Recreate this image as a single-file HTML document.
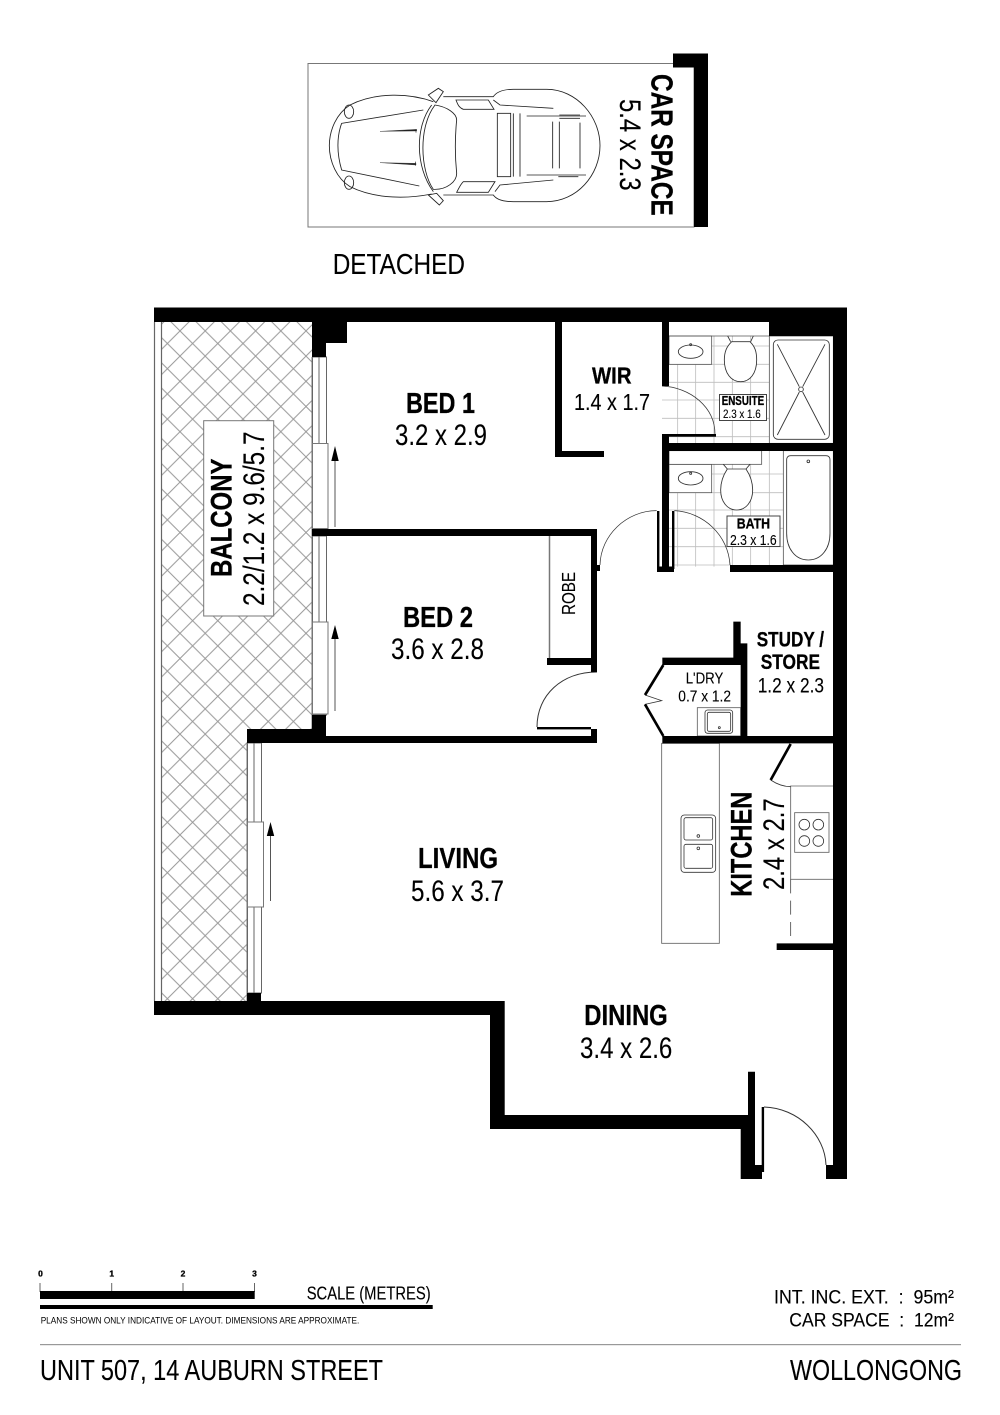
<!DOCTYPE html>
<html><head><meta charset="utf-8"><title>Unit 507 floor plan</title>
<style>
html,body{margin:0;padding:0;background:#fff}
svg{display:block}
text{font-family:"Liberation Sans",Arial,sans-serif;fill:#000;stroke:#000;stroke-width:.12}
.b{font-weight:bold;stroke-width:.3}
</style></head><body>
<svg width="1000" height="1415" viewBox="0 0 1000 1415" xmlns="http://www.w3.org/2000/svg">
<defs>
<pattern id="h" patternUnits="userSpaceOnUse" width="25.2" height="25.2" x="3.6" y="3.3">
<path d="M0,0L25.2,25.2M25.2,0L0,25.2" stroke="#999" stroke-width="1" fill="none"/>
</pattern>
</defs>
<rect width="1000" height="1415" fill="#fff"/>

<!-- car space -->
<rect x="308" y="63.5" width="386" height="163.5" fill="#fff" stroke="#777" stroke-width="1"/>
<path d="M673,53.5H708V227H694V67.5H673Z" fill="#000"/>
<g transform="translate(300,50) scale(.33333)" fill="none" stroke="#222" stroke-width="2.6">
<path d="M400,155C330,130 230,125 150,165C110,190 88,240 88,287C88,335 110,385 150,410C230,450 330,445 395,432"/>
<path d="M430,140L580,140C590,125 610,118 640,118L740,118C830,118 900,200 900,287C900,375 830,455 740,455L640,455C610,455 590,450 580,435L430,435"/>
<path d="M370,180L125,220C110,260 110,310 125,360L358,408"/>
<ellipse cx="147" cy="185" rx="14" ry="20"/><ellipse cx="147" cy="398" rx="14" ry="20"/>
<path d="M240,244L350,238V243ZM240,338L348,340V345Z" fill="#222" stroke-width="1"/>
<path d="M348,238V248M346,335V347" stroke-width="2"/>
<path d="M395,165C345,230 345,350 400,425"/>
<path d="M405,165C440,170 470,190 470,210C465,260 465,320 470,370C470,395 440,420 400,418C360,360 355,230 405,165Z"/>
<path d="M385,135L415,115L430,125L408,158ZM385,435L410,430L430,452L418,465Z"/>
<path d="M468,150H565L582,178H490C475,172 472,160 468,150ZM490,395H585L565,427H470C478,412 482,402 490,395Z"/>
<path d="M580,150L600,165L760,175M585,425L600,405L760,390"/>
<rect x="592" y="190" width="40" height="190"/>
<path d="M640,190V380M660,190V380M680,198H858M680,375H858M758,215V355M778,215V355M840,218V355M778,195H840M778,205H840M775,380H835"/>
</g>
<text class="b" transform="translate(651.7,74) rotate(90)" font-size="31" textLength="141.7" lengthAdjust="spacingAndGlyphs">CAR SPACE</text>
<text transform="translate(620,99) rotate(90)" font-size="30" textLength="91.7" lengthAdjust="spacingAndGlyphs">5.4 x 2.3</text>
<text x="332.7" y="274" font-size="29" textLength="132.3" lengthAdjust="spacingAndGlyphs">DETACHED</text>

<!-- balcony -->
<path d="M162,322H312V729H247V1001H162Z" fill="url(#h)"/>
<path d="M154.5,322V1001M161.5,322V1001" stroke="#666" stroke-width="1.2" fill="none"/>
<path d="M312,357V729M247,743V1001" stroke="#777" stroke-width="1" fill="none"/>
<rect x="203.7" y="420.7" width="70" height="195.3" fill="#fff" stroke="#777" stroke-width="1"/>
<text class="b" transform="translate(231.7,577) rotate(-90)" font-size="30" textLength="118.5" lengthAdjust="spacingAndGlyphs">BALCONY</text>
<text transform="translate(264,606) rotate(-90)" font-size="30" textLength="174.5" lengthAdjust="spacingAndGlyphs">2.2/1.2 x 9.6/5.7</text>

<!-- windows -->
<g fill="#fff" stroke="#666" stroke-width="1">
<rect x="312.5" y="357" width="14" height="172"/>
<rect x="312.5" y="536" width="14" height="179"/>
<rect x="247.5" y="743" width="14" height="250"/>
</g>
<path d="M319,357V443M319,536V622M254,743V822M254,907V993" stroke="#666" stroke-width="1"/>
<g fill="#fff" stroke="#777" stroke-width="1">
<rect x="312.5" y="443.5" width="15.5" height="85"/>
<rect x="312.5" y="622" width="15.5" height="92"/>
<rect x="247.5" y="822" width="16" height="85"/>
</g>
<g stroke="#555" stroke-width="1" fill="none"><path d="M335,461V527M335,639V711M270.5,836V901"/></g>
<path d="M335,446L338.7,461H331.3ZM335,625L338.7,639H331.3ZM270.5,822L274.2,836H266.8Z" fill="#000"/>

<!-- wet areas (zoom coordinates 540,300) -->
<g transform="translate(540,300) scale(.33333)" fill="none">
<g stroke="#bdbdbd" stroke-width="2.4">
<path d="M413,193V430M467,193V430M522,108V430M577,108V430M632,108V430"/>
<path d="M366,247H688M366,300H688M366,355H688M366,193H688M515,138H688M366,410H688"/>
<path d="M413,578V800M467,578V800M522,493V800M577,493V800M632,493V800M688,452V795"/>
<path d="M515,522H730M387,578H730M387,630H730M387,685H730M387,740H730M403,795H570"/>
</g>
<g stroke="#555" stroke-width="2.4">
<rect x="387" y="108" width="128" height="85" fill="#fff"/>
<rect x="387" y="493" width="128" height="85" fill="#fff"/>
<rect x="387" y="452" width="278" height="41" fill="#fff"/>
<path d="M387,108H688"/>
<rect x="688" y="108" width="192" height="322" fill="#fff"/>
<rect x="730" y="452" width="150" height="343" fill="#fff"/>
</g>
<g stroke="#333" stroke-width="2.6">
<rect x="700" y="120" width="168" height="298" rx="14" fill="#fff"/>
<path d="M712,133L778,260M855,133L788,260M712,405L778,276M855,405L788,276"/>
<circle cx="783" cy="268" r="7"/>
<ellipse cx="452" cy="155" rx="37" ry="20" fill="#fff"/><circle cx="452" cy="134" r="3"/>
<ellipse cx="452" cy="535" rx="37" ry="20" fill="#fff"/><circle cx="452" cy="520" r="3"/>
<path d="M563,108L572,125M640,108L632,125"/>
<path d="M575,125H630C645,140 650,155 650,180C650,220 630,245 602,245C574,245 553,220 553,180C553,155 560,140 575,125Z" fill="#fff"/>
<path d="M550,493L562,507M630,493L618,507"/>
<path d="M562,507H618C630,525 638,545 638,570C638,605 618,630 590,630C562,630 542,605 542,570C542,545 550,525 562,507Z" fill="#fff"/>
<path d="M752,467H858C866,467 870,472 870,480V700C870,745 845,780 805,780C765,780 740,745 740,700V480C740,472 744,467 752,467Z" fill="#fff"/>
<circle cx="805" cy="484" r="4"/>
</g>
<g stroke="#333" stroke-width="2.2">
<path d="M366,258C450,262 525,320 525,403"/>
<path d="M350,632C260,632 182,705 180,795"/>
<path d="M403,632C490,636 565,705 570,795"/>
</g>
</g>
<rect x="719.5" y="394.5" width="47" height="26" fill="#fff" stroke="#444" stroke-width="1"/>
<rect x="727" y="516" width="53" height="30.5" fill="#fff" stroke="#444" stroke-width="1"/>

<!-- kitchen and laundry (zoom coordinates 520,560) -->
<g transform="translate(520,560) scale(.33333)" fill="none">
<g stroke="#666" stroke-width="2.6">
<rect x="425" y="550" width="173" height="600" fill="#fff"/>
<path d="M940,678H812V958H940"/>
<rect x="532" y="443" width="130" height="85" fill="#fff"/>
<rect x="824" y="758" width="103" height="119"/>
</g>
<path d="M812,958V1150" stroke="#444" stroke-width="2.4" stroke-dasharray="42,22"/>
<g stroke="#333" stroke-width="2.4">
<rect x="483" y="765" width="104" height="172" rx="10"/>
<rect x="492" y="773" width="86" height="67" rx="6"/>
<rect x="492" y="853" width="86" height="72" rx="6"/>
<circle cx="535" cy="828" r="4"/><circle cx="535" cy="865" r="4"/>
<rect x="555" y="450" width="83" height="70" rx="8"/>
<rect x="562" y="457" width="70" height="57" rx="5"/>
<circle cx="598" cy="503" r="3"/>
<circle cx="853" cy="794" r="16"/><circle cx="895" cy="794" r="16"/>
<circle cx="853" cy="843" r="16"/><circle cx="895" cy="843" r="16"/>
<path d="M375,405L425,422L375,433"/>
<path d="M752,660C770,672 790,680 812,680"/>
</g>
<path d="M430,315L375,405M375,433L430,528M812,552L752,660" stroke="#000" stroke-width="8"/>
<path d="M640,185H662V250H682V528H940V550H427V528H662V315H427V293H640Z" fill="#000"/>
<path d="M770,1150H940V1170H770Z" fill="#000"/>
</g>

<!-- bed 2 door & robe -->
<path d="M597,672C562,672 537,695 537,727" fill="none" stroke="#333" stroke-width="1"/>
<path d="M549.5,536V658" stroke="#777" stroke-width="1.5" fill="none"/>

<!-- walls -->
<g fill="#000">
<path d="M154,307.5H847V1179H826V1165H833V336H769V322H669V386H662V322H562V451H604V457H555V322H347V343H326V357H312V322H154Z"/>
<rect x="665" y="434" width="51" height="2.7"/>
<rect x="662" y="434" width="7" height="136"/>
<rect x="662" y="443" width="171" height="8"/>
<rect x="657" y="511" width="2.4" height="58"/><rect x="672" y="511" width="2.4" height="58"/>
<rect x="657" y="566.5" width="17" height="5.5"/>
<rect x="730" y="565" width="103" height="7"/>
<rect x="312" y="529" width="285" height="7"/>
<rect x="591" y="529" width="6" height="41"/><rect x="591" y="565" width="9" height="6"/>
<rect x="591" y="571" width="6" height="101"/>
<rect x="547" y="658" width="50" height="7"/>
<rect x="537" y="727" width="54" height="2.4"/>
<path d="M312,715H326V736H591V729H597V743H247V729H312Z"/>
<rect x="247" y="993" width="14" height="8"/>
<path d="M154,1001H504.7V1115H748V1071.7H755V1165H762V1179H740.7V1129H490V1015H154Z"/>
<rect x="761.7" y="1107" width="2.4" height="65"/>
</g>
<path d="M764,1107C798,1108 825,1135 826,1165" fill="none" stroke="#333" stroke-width="1"/>

<!-- labels -->
<text class="b" x="406" y="413" font-size="28.5" textLength="69" lengthAdjust="spacingAndGlyphs">BED 1</text>
<text x="395" y="445" font-size="29.5" textLength="92" lengthAdjust="spacingAndGlyphs">3.2 x 2.9</text>
<text class="b" x="592" y="383.3" font-size="23" textLength="39.5" lengthAdjust="spacingAndGlyphs">WIR</text>
<text x="574" y="410" font-size="23" textLength="76" lengthAdjust="spacingAndGlyphs">1.4 x 1.7</text>
<text class="b" x="721.7" y="405" font-size="12.5" textLength="42.5" lengthAdjust="spacingAndGlyphs">ENSUITE</text>
<text x="723" y="418" font-size="11.5" textLength="37.7" lengthAdjust="spacingAndGlyphs">2.3 x 1.6</text>
<text class="b" x="736.7" y="528.3" font-size="14.5" textLength="33.3" lengthAdjust="spacingAndGlyphs">BATH</text>
<text x="730" y="545" font-size="15" textLength="46.7" lengthAdjust="spacingAndGlyphs">2.3 x 1.6</text>
<text transform="translate(575,615) rotate(-90)" font-size="18.6" textLength="43" lengthAdjust="spacingAndGlyphs">ROBE</text>
<text class="b" x="403" y="627" font-size="28.5" textLength="70" lengthAdjust="spacingAndGlyphs">BED 2</text>
<text x="391" y="659" font-size="29.5" textLength="93" lengthAdjust="spacingAndGlyphs">3.6 x 2.8</text>
<text class="b" x="756.7" y="646.7" font-size="21" textLength="67.3" lengthAdjust="spacingAndGlyphs">STUDY /</text>
<text class="b" x="760.7" y="669" font-size="21" textLength="59.3" lengthAdjust="spacingAndGlyphs">STORE</text>
<text x="757.7" y="692.3" font-size="21" textLength="66.3" lengthAdjust="spacingAndGlyphs">1.2 x 2.3</text>
<text x="685.7" y="683.3" font-size="16" textLength="37.6" lengthAdjust="spacingAndGlyphs">L'DRY</text>
<text x="678.3" y="701.7" font-size="16" textLength="52.7" lengthAdjust="spacingAndGlyphs">0.7 x 1.2</text>
<text class="b" transform="translate(751.7,896.7) rotate(-90)" font-size="30" textLength="105" lengthAdjust="spacingAndGlyphs">KITCHEN</text>
<text transform="translate(784,890) rotate(-90)" font-size="30" textLength="91.7" lengthAdjust="spacingAndGlyphs">2.4 x 2.7</text>
<text class="b" x="418" y="868" font-size="28.5" textLength="80" lengthAdjust="spacingAndGlyphs">LIVING</text>
<text x="411" y="901" font-size="29.5" textLength="93" lengthAdjust="spacingAndGlyphs">5.6 x 3.7</text>
<text class="b" x="584.3" y="1025" font-size="28.5" textLength="83.4" lengthAdjust="spacingAndGlyphs">DINING</text>
<text x="580" y="1058" font-size="29.5" textLength="92.3" lengthAdjust="spacingAndGlyphs">3.4 x 2.6</text>

<!-- footer -->
<g font-size="8.5" text-anchor="middle">
<text class="b" x="40.5" y="1276.7">0</text><text class="b" x="111.7" y="1276.7">1</text><text class="b" x="183" y="1276.7">2</text><text class="b" x="254.5" y="1276.7">3</text>
</g>
<path d="M40,1283V1292M111.7,1283V1292M183,1283V1292M254.5,1283V1292" stroke="#666" stroke-width="1"/>
<rect x="40" y="1291" width="214.7" height="8" fill="#000"/>
<rect x="40" y="1305" width="392.7" height="4" fill="#000"/>
<text x="306.7" y="1299.3" font-size="18.5" textLength="124" lengthAdjust="spacingAndGlyphs">SCALE (METRES)</text>
<text x="40.7" y="1323.3" font-size="9.3" textLength="318.6" lengthAdjust="spacingAndGlyphs" style="stroke:none">PLANS SHOWN ONLY INDICATIVE OF LAYOUT.  DIMENSIONS ARE APPROXIMATE.</text>
<text x="774" y="1303.3" font-size="19" textLength="180" lengthAdjust="spacingAndGlyphs" xml:space="preserve">INT. INC. EXT.  :  95m²</text>
<text x="789.3" y="1326.7" font-size="19" textLength="164.7" lengthAdjust="spacingAndGlyphs" xml:space="preserve">CAR SPACE  :  12m²</text>
<rect x="40" y="1344" width="921" height="1.2" fill="#999"/>
<text x="40" y="1380" font-size="29" textLength="343" lengthAdjust="spacingAndGlyphs">UNIT 507, 14 AUBURN STREET</text>
<text x="790" y="1380" font-size="29" textLength="172" lengthAdjust="spacingAndGlyphs">WOLLONGONG</text>
</svg>
</body></html>
